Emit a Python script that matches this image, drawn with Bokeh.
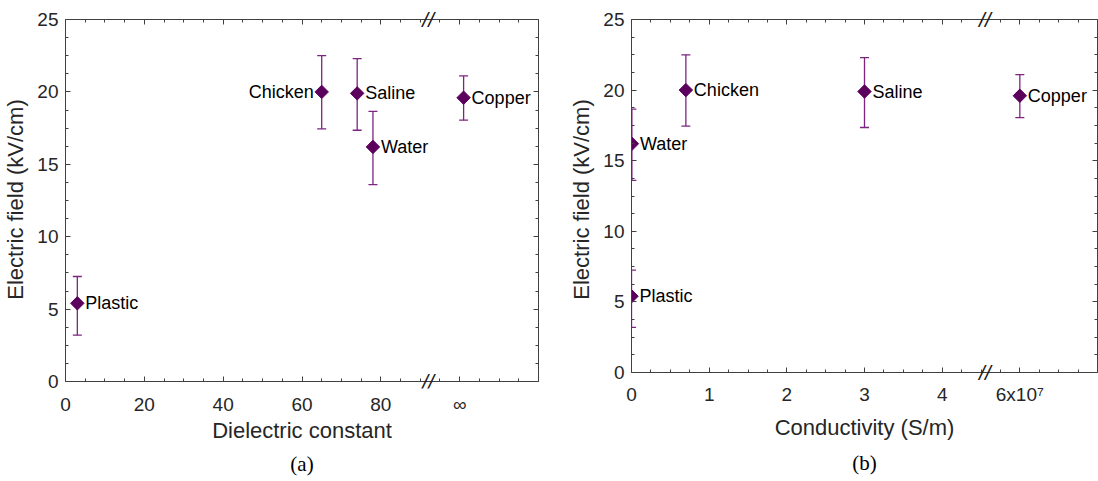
import math
from bokeh.plotting import figure
from bokeh.models import (ColumnDataSource, FixedTicker, LinearAxis, Range1d, Label, Title,
                          CustomJSTickFormatter)
from bokeh.layouts import row
from bokeh.core.properties import value
from bokeh.embed import file_html
from bokeh.resources import INLINE

# ---------------- data ----------------
materials = ["Plastic", "Chicken", "Saline", "Water", "Copper"]
field = [5.4, 20.0, 19.9, 16.2, 19.6]            # kV/cm
field_upper = [7.25, 22.5, 22.3, 18.65, 21.1]
field_lower = [3.2, 17.45, 17.35, 13.6, 18.05]
# dielectric constant (copper = infinity, drawn at the "∞" tick position)
dielectric = [3, 65, 74, 78, 101]
# conductivity S/m (copper = 6x10^7, drawn at the broken-axis tick position)
conductivity = [0.0, 0.7, 3.0, 0.005, 5.0]

a_ticks = [0, 20, 40, 60, 80, 100]
a_tick_labels = ["0", "20", "40", "60", "80", "∞"]
b_ticks = [0, 1, 2, 3, 4, 5]
b_tick_labels = ["0", "1", "2", "3", "4", "6x10⁷"]
y_ticks = [0, 5, 10, 15, 20, 25]
a_label_left = ["Chicken"]
b_label_left = []

# ---------------- style ----------------
MARK = "#5c005e"
ERR = "#7c2480"
AX = "#404040"
TXT = "#262626"
FONT = "Liberation Sans"
H = 481
FTOP = 10          # frame top (px)
FBOT = 388         # frame bottom (px)
AXTOP = 19         # pixel row of y = 25


def style_axis(ax, show_labels):
    ax.axis_line_color = AX
    ax.axis_line_width = 1
    ax.major_tick_line_color = AX
    ax.minor_tick_line_color = AX
    ax.major_tick_in = 5
    ax.major_tick_out = 0
    ax.minor_tick_in = 3
    ax.minor_tick_out = 0
    ax.major_label_text_font = FONT
    ax.major_label_text_color = TXT
    ax.major_label_text_font_size = "19px"
    ax.axis_label_text_font = FONT
    ax.axis_label_text_font_style = "normal"
    ax.axis_label_text_color = TXT
    ax.axis_label_text_font_size = "22px"
    if not show_labels:
        ax.formatter = CustomJSTickFormatter(code="return ''")
        ax.major_label_text_font_size = "0px"
        ax.major_label_standoff = 0


def make_panel(xvals, xr, major, major_labels, minor_step, xlabel, left_names,
               brk, width, bl, br, axis_px, tick_so, label_so, cap, cap_so):
    ppu = (axis_px - AXTOP) / 25.0
    ytop = 25 + (AXTOP - FTOP) / ppu
    ybot = -(FBOT - axis_px) / ppu
    p = figure(width=width, height=H, x_range=Range1d(*xr), y_range=Range1d(ybot, ytop),
               output_backend="svg", toolbar_location=None,
               min_border_left=bl, min_border_right=br, min_border_top=FTOP,
               min_border_bottom=H - FBOT, x_axis_location=None, y_axis_location=None)
    p.grid.visible = False
    p.outline_line_color = None
    p.background_fill_color = "white"
    p.border_fill_color = "white"

    n_minor = int(round((xr[1] - xr[0]) / minor_step))
    xminor = [xr[0] + i * minor_step for i in range(n_minor + 1)]
    yminor = [i * 1.25 for i in range(21)]
    xt = FixedTicker(ticks=major, minor_ticks=xminor)
    yt = FixedTicker(ticks=y_ticks, minor_ticks=yminor)
    overrides = {t: lab for t, lab in zip(major, major_labels)}

    # bottom: labels-only axis at the frame edge, then the caption
    xlab = LinearAxis(ticker=xt, axis_label=xlabel, major_label_overrides=overrides)
    style_axis(xlab, True)
    xlab.axis_line_color = None
    xlab.major_tick_line_color = None
    xlab.minor_tick_line_color = None
    xlab.major_label_standoff = tick_so
    xlab.axis_label_standoff = label_so
    p.add_layout(xlab, "below")
    p.add_layout(Title(text=cap, align="center", text_font="Liberation Serif",
                       text_font_size="21px", text_font_style="normal",
                       text_color="black", standoff=cap_so), "below")
    # top line + ticks at y = 25
    xa = LinearAxis(ticker=xt, fixed_location=25)
    style_axis(xa, False)
    p.add_layout(xa, "above")
    # bottom line + upward ticks at y = 0 (kept in the top panel so it takes no bottom space)
    xb = LinearAxis(ticker=xt, fixed_location=0)
    style_axis(xb, False)
    xb.major_tick_in = 0
    xb.major_tick_out = 5
    xb.minor_tick_in = 0
    xb.minor_tick_out = 3
    p.add_layout(xb, "above")

    yl = LinearAxis(ticker=yt, axis_label="Electric field (kV/cm)", bounds=(0, 25))
    style_axis(yl, True)
    yl.major_label_standoff = 7
    yl.axis_label_standoff = 6
    p.add_layout(yl, "left")
    yr = LinearAxis(ticker=yt, bounds=(0, 25))
    style_axis(yr, False)
    p.add_layout(yr, "right")

    src = ColumnDataSource(dict(x=xvals, y=field, up=field_upper, lo=field_lower))
    p.segment(x0="x", y0="lo", x1="x", y1="up", source=src, line_color=ERR, line_width=1.3)
    p.scatter(x="x", y="up", source=src, marker="dash", size=9, line_color=ERR, line_width=1.3)
    p.scatter(x="x", y="lo", source=src, marker="dash", size=9, line_color=ERR, line_width=1.3)
    p.scatter(x="x", y="y", source=src, marker="square", angle=math.pi / 4, size=9.5,
              fill_color=MARK, line_color=MARK)

    rx, ry, rt, lx, ly, lt = [], [], [], [], [], []
    for xv, yv, nm in zip(xvals, field, materials):
        if nm in left_names:
            lx.append(xv); ly.append(yv); lt.append(nm)
        else:
            rx.append(xv); ry.append(yv); rt.append(nm)
    p.text(x=rx, y=ry, text=rt, x_offset=8, text_align="left", text_baseline="middle",
           text_font=value(FONT), text_font_size="18px", text_color="black")
    if lx:
        p.text(x=lx, y=ly, text=lt, x_offset=-8, text_align="right", text_baseline="middle",
               text_font=value(FONT), text_font_size="18px", text_color="black")

    for yy in (0, 25):
        p.add_layout(Label(x=brk, y=yy, text="//", text_align="center", text_baseline="middle",
                           text_font=FONT, text_font_size="21px", text_font_style="italic",
                           text_color="#1a1a1a"))
    return p


pa = make_panel(dielectric, (0, 120), a_ticks, a_tick_labels, 5, "Dielectric constant",
                a_label_left, 92, 548, 65, 10, 381, 5, 0, "(a)", 9)
pb = make_panel(conductivity, (0, 6), b_ticks, b_tick_labels, 0.25, "Conductivity (S/m)",
                b_label_left, 4.55, 550, 83, 1, 372, -5, 7, "(b)", 12)

layout = row(pa, pb, spacing=0)
open("out.html", "w").write(file_html(layout, INLINE))
